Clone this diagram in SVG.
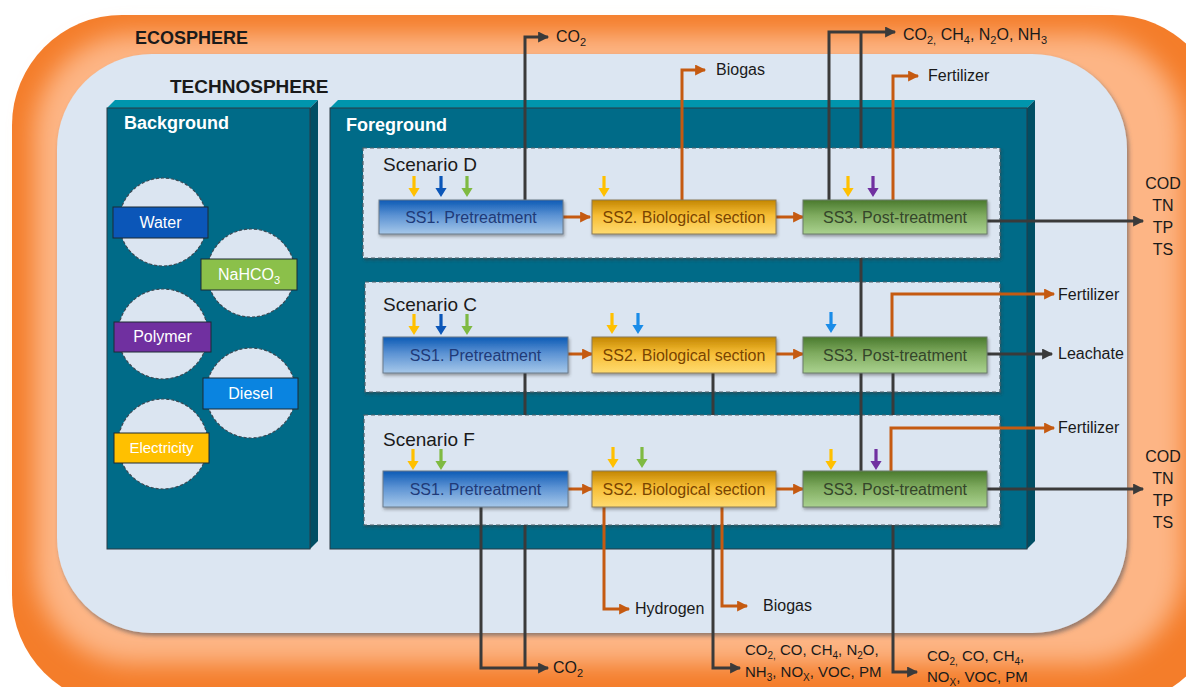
<svg xmlns="http://www.w3.org/2000/svg" xmlns:xlink="http://www.w3.org/1999/xlink" width="1186" height="687" viewBox="0 0 1186 687">
<defs>
<style>
.t{font-family:"Liberation Sans",Arial,sans-serif;fill:#1a1a1a}
.b{font-weight:bold}
.w{fill:#ffffff}
.lbl{font-size:16px}
.tg{font-size:16px}
.box{font-size:16px;text-anchor:middle}
.bl{fill:none;stroke:#3a3a3a;stroke-width:3}
.or{fill:none;stroke:#c55a11;stroke-width:3}
.scn{fill:#dbe5f1;stroke:#50606a;stroke-width:1.2;stroke-dasharray:4 3}
.circ{fill:#dbe5f1;stroke:#3c4a55;stroke-width:1.2;stroke-dasharray:3 2}
.tag{stroke:#1c2a33;stroke-width:1}
.face{fill:#006b88;stroke:#2b3b44;stroke-width:1}
.top{fill:#0095ad}
.side{fill:#004e64}
</style>
<linearGradient id="gS1" x1="0" y1="0" x2="0" y2="1"><stop offset="0" stop-color="#0d5ab5"/><stop offset="0.45" stop-color="#5b92d3"/><stop offset="1" stop-color="#a6c8ea"/></linearGradient>
<linearGradient id="gS2" x1="0" y1="0" x2="0" y2="1"><stop offset="0" stop-color="#c38600"/><stop offset="0.45" stop-color="#f6bd35"/><stop offset="1" stop-color="#ffdb70"/></linearGradient>
<linearGradient id="gS3" x1="0" y1="0" x2="0" y2="1"><stop offset="0" stop-color="#4a7a2e"/><stop offset="0.45" stop-color="#7fab5f"/><stop offset="1" stop-color="#aad28f"/></linearGradient>
<filter id="blur" x="-10%" y="-10%" width="120%" height="120%"><feGaussianBlur stdDeviation="12"/></filter>
<filter id="sh" x="-5%" y="-5%" width="112%" height="115%"><feDropShadow dx="2" dy="3" stdDeviation="2" flood-color="#404a55" flood-opacity="0.55"/></filter>
<filter id="bsh" x="-10%" y="-20%" width="125%" height="150%"><feDropShadow dx="1" dy="2" stdDeviation="1.5" flood-color="#303030" flood-opacity="0.45"/></filter>
<marker id="mb" viewBox="0 0 10 10" refX="9" refY="5" markerWidth="12" markerHeight="11" markerUnits="userSpaceOnUse" orient="auto"><path d="M0,0 L10,5 L0,10 z" fill="#3a3a3a"/></marker>
<marker id="mo" viewBox="0 0 10 10" refX="9" refY="5" markerWidth="12" markerHeight="11" markerUnits="userSpaceOnUse" orient="auto"><path d="M0,0 L10,5 L0,10 z" fill="#c55a11"/></marker>
<path id="sa" d="M-1.6,0 h3.2 v12 h4 l-5.6,9 l-5.6,-9 h4 z"/>
</defs>

<g id="ecosphere">
<rect x="12" y="15" width="1210" height="690" rx="110" fill="#f47d2a"/>
<rect x="34" y="34" width="1150" height="630" rx="100" fill="#fdb585" filter="url(#blur)"/>
<text class="t b" x="135" y="44" font-size="18">ECOSPHERE</text>
</g>

<g id="technosphere">
<rect x="57" y="54" width="1070" height="579" rx="95" fill="#dce6f2" filter="url(#sh)"/>
<text class="t b" x="170" y="93" font-size="19">TECHNOSPHERE</text>
</g>

<g id="background">
<polygon class="top" points="107,108 115,100 318,100 310,108"/>
<polygon class="side" points="310,108 318,100 318,541 310,549"/>
<rect class="face" x="107" y="108" width="203" height="441"/>
<text class="t b w" x="124" y="129" font-size="18">Background</text>
</g>

<g id="water"><circle class="circ" cx="163" cy="222" r="44"/><rect class="tag" x="113" y="207" width="95" height="31" fill="#0b56b8"/><text class="t w tg" x="160.5" y="228" text-anchor="middle">Water</text></g>
<g id="nahco3"><circle class="circ" cx="251" cy="273" r="44"/><rect class="tag" x="201" y="259" width="96" height="31" fill="#8bc04a"/><text class="t w tg" x="249" y="280" text-anchor="middle">NaHCO<tspan font-size="11" dy="4">3</tspan></text></g>
<g id="polymer"><circle class="circ" cx="163" cy="334" r="45"/><rect class="tag" x="114" y="322" width="97" height="30" fill="#7030a0"/><text class="t w tg" x="162.5" y="342" text-anchor="middle">Polymer</text></g>
<g id="diesel"><circle class="circ" cx="251" cy="393" r="45"/><rect class="tag" x="203" y="378" width="95" height="31" fill="#0a84e0"/><text class="t w tg" x="250.5" y="399" text-anchor="middle">Diesel</text></g>
<g id="electricity"><circle class="circ" cx="163" cy="444" r="45"/><rect class="tag" x="114" y="433" width="95" height="30" fill="#ffc000"/><text class="t w" font-size="15" x="161.5" y="453" text-anchor="middle">Electricity</text></g>

<g id="foreground">
<polygon class="top" points="330,108 338,100 1035,100 1027,108"/>
<polygon class="side" points="1027,108 1035,100 1035,541 1027,549"/>
<rect class="face" x="330" y="108" width="697" height="441"/>
<text class="t b w" x="346" y="131" font-size="18">Foreground</text>
</g>

<g id="scenario-d"><rect class="scn" x="363" y="148" width="637" height="110" filter="url(#bsh)"/><text class="t" x="383" y="171" font-size="19">Scenario D</text></g>
<g id="scenario-c"><rect class="scn" x="365" y="282" width="635" height="110" filter="url(#bsh)"/><text class="t" x="383" y="311" font-size="19">Scenario C</text></g>
<g id="scenario-f"><rect class="scn" x="364" y="415" width="636" height="110" filter="url(#bsh)"/><text class="t" x="383" y="446" font-size="19">Scenario F</text></g>

<g id="connectors">
<path class="bl" d="M525,200 V37 H548" marker-end="url(#mb)"/>
<path class="bl" d="M829,200 V32 H895" marker-end="url(#mb)"/>
<path class="bl" d="M861,148 V32"/>
<path class="bl" d="M861,258 V337"/>
<path class="bl" d="M861,373 V471"/>
<path class="bl" d="M987,221 H1143" marker-end="url(#mb)"/>
<path class="bl" d="M987,354 H1052" marker-end="url(#mb)"/>
<path class="bl" d="M525,373 V415 M525,525 V668"/>
<path class="bl" d="M713,373 V415"/>
<path class="bl" d="M713,525 V668 H740" marker-end="url(#mb)"/>
<path class="bl" d="M893,373 V415"/>
<path class="bl" d="M893,525 V672 H917" marker-end="url(#mb)"/>
<path class="bl" d="M481,507 V668 H548" marker-end="url(#mb)"/>
<path class="bl" d="M987,489 H1143" marker-end="url(#mb)"/>
<path class="or" d="M682,200 V70 H705" marker-end="url(#mo)"/>
<path class="or" d="M893,200 V76 H918" marker-end="url(#mo)"/>
<path class="or" d="M563,217 H590" marker-end="url(#mo)"/>
<path class="or" d="M776,217 H803" marker-end="url(#mo)"/>
<path class="or" d="M568,354 H592" marker-end="url(#mo)"/>
<path class="or" d="M776,354 H803" marker-end="url(#mo)"/>
<path class="or" d="M568,489 H592" marker-end="url(#mo)"/>
<path class="or" d="M776,489 H803" marker-end="url(#mo)"/>
<path class="or" d="M892,337 V294 H1054" marker-end="url(#mo)"/>
<path class="or" d="M891,471 V428 H1054" marker-end="url(#mo)"/>
<path class="or" d="M604,507 V609 H629" marker-end="url(#mo)"/>
<path class="or" d="M722,507 V606 H747" marker-end="url(#mo)"/>
<use href="#sa" x="414" y="176" fill="#ffc000"/>
<use href="#sa" x="441" y="176" fill="#0b56b8"/>
<use href="#sa" x="467" y="176" fill="#7fba42"/>
<use href="#sa" x="604" y="176" fill="#ffc000"/>
<use href="#sa" x="848" y="176" fill="#ffc000"/>
<use href="#sa" x="873" y="176" fill="#7030a0"/>
<use href="#sa" x="414" y="314" fill="#ffc000"/>
<use href="#sa" x="441" y="314" fill="#0b56b8"/>
<use href="#sa" x="467" y="314" fill="#7fba42"/>
<use href="#sa" x="612" y="313" fill="#ffc000"/>
<use href="#sa" x="638" y="313" fill="#1a8ce8"/>
<use href="#sa" x="831" y="312" fill="#1a8ce8"/>
<use href="#sa" x="413" y="449" fill="#ffc000"/>
<use href="#sa" x="441" y="449" fill="#7fba42"/>
<use href="#sa" x="613" y="447" fill="#ffc000"/>
<use href="#sa" x="642" y="447" fill="#7fba42"/>
<use href="#sa" x="831" y="449" fill="#ffc000"/>
<use href="#sa" x="876" y="449" fill="#7030a0"/>
</g>

<g id="d-ss1"><rect x="379" y="200" width="184" height="34" fill="url(#gS1)" stroke="#6b7b8a" filter="url(#bsh)"/><text class="t box" x="471" y="223" style="fill:#1f3a78">SS1. Pretreatment</text></g>
<g id="d-ss2"><rect x="592" y="200" width="184" height="34" fill="url(#gS2)" stroke="#8a7a5a" filter="url(#bsh)"/><text class="t box" x="684" y="223" style="fill:#7a4500">SS2. Biological section</text></g>
<g id="d-ss3"><rect x="803" y="200" width="184" height="34" fill="url(#gS3)" stroke="#6b7b6a" filter="url(#bsh)"/><text class="t box" x="895" y="223" style="fill:#34452a">SS3. Post-treatment</text></g>

<g id="c-ss1"><rect x="383" y="337" width="185" height="36" fill="url(#gS1)" stroke="#6b7b8a" filter="url(#bsh)"/><text class="t box" x="475.5" y="361" style="fill:#1f3a78">SS1. Pretreatment</text></g>
<g id="c-ss2"><rect x="592" y="337" width="184" height="36" fill="url(#gS2)" stroke="#8a7a5a" filter="url(#bsh)"/><text class="t box" x="684" y="361" style="fill:#7a4500">SS2. Biological section</text></g>
<g id="c-ss3"><rect x="803" y="337" width="184" height="36" fill="url(#gS3)" stroke="#6b7b6a" filter="url(#bsh)"/><text class="t box" x="895" y="361" style="fill:#34452a">SS3. Post-treatment</text></g>

<g id="f-ss1"><rect x="383" y="471" width="185" height="36" fill="url(#gS1)" stroke="#6b7b8a" filter="url(#bsh)"/><text class="t box" x="475.5" y="495" style="fill:#1f3a78">SS1. Pretreatment</text></g>
<g id="f-ss2"><rect x="592" y="471" width="184" height="36" fill="url(#gS2)" stroke="#8a7a5a" filter="url(#bsh)"/><text class="t box" x="684" y="495" style="fill:#7a4500">SS2. Biological section</text></g>
<g id="f-ss3"><rect x="803" y="471" width="184" height="36" fill="url(#gS3)" stroke="#6b7b6a" filter="url(#bsh)"/><text class="t box" x="895" y="495" style="fill:#34452a">SS3. Post-treatment</text></g>

<g id="labels">
<text class="t lbl" x="556" y="42">CO<tspan font-size="11" dy="4">2</tspan></text>
<text class="t lbl" x="716" y="75">Biogas</text>
<text class="t lbl" x="903" y="40">CO<tspan font-size="11" dy="4">2,</tspan><tspan dy="-4"> CH</tspan><tspan font-size="11" dy="4">4</tspan><tspan dy="-4">, N</tspan><tspan font-size="11" dy="4">2</tspan><tspan dy="-4">O, NH</tspan><tspan font-size="11" dy="4">3</tspan></text>
<text class="t lbl" x="928" y="81">Fertilizer</text>
<text class="t lbl" text-anchor="middle" x="1163" y="189">COD</text>
<text class="t lbl" text-anchor="middle" x="1163" y="211">TN</text>
<text class="t lbl" text-anchor="middle" x="1163" y="233">TP</text>
<text class="t lbl" text-anchor="middle" x="1163" y="255">TS</text>
<text class="t lbl" x="1058" y="300">Fertilizer</text>
<text class="t lbl" x="1058" y="359">Leachate</text>
<text class="t lbl" x="1058" y="433">Fertilizer</text>
<text class="t lbl" text-anchor="middle" x="1163" y="462">COD</text>
<text class="t lbl" text-anchor="middle" x="1163" y="484">TN</text>
<text class="t lbl" text-anchor="middle" x="1163" y="506">TP</text>
<text class="t lbl" text-anchor="middle" x="1163" y="528">TS</text>
<text class="t lbl" x="635" y="614">Hydrogen</text>
<text class="t lbl" x="763" y="611">Biogas</text>
<text class="t lbl" x="553" y="673">CO<tspan font-size="11" dy="4">2</tspan></text>
<text class="t" font-size="15" x="745" y="655">CO<tspan font-size="10" dy="4">2,</tspan><tspan dy="-4"> CO, CH</tspan><tspan font-size="10" dy="4">4</tspan><tspan dy="-4">, N</tspan><tspan font-size="10" dy="4">2</tspan><tspan dy="-4">O,</tspan></text>
<text class="t" font-size="15" x="745" y="677">NH<tspan font-size="10" dy="4">3</tspan><tspan dy="-4">, NO</tspan><tspan font-size="10" dy="4">X</tspan><tspan dy="-4">, VOC, PM</tspan></text>
<text class="t" font-size="15" x="927" y="661">CO<tspan font-size="10" dy="4">2,</tspan><tspan dy="-4"> CO, CH</tspan><tspan font-size="10" dy="4">4</tspan><tspan dy="-4">,</tspan></text>
<text class="t" font-size="15" x="927" y="682">NO<tspan font-size="10" dy="4">X</tspan><tspan dy="-4">, VOC, PM</tspan></text>
</g>
</svg>
